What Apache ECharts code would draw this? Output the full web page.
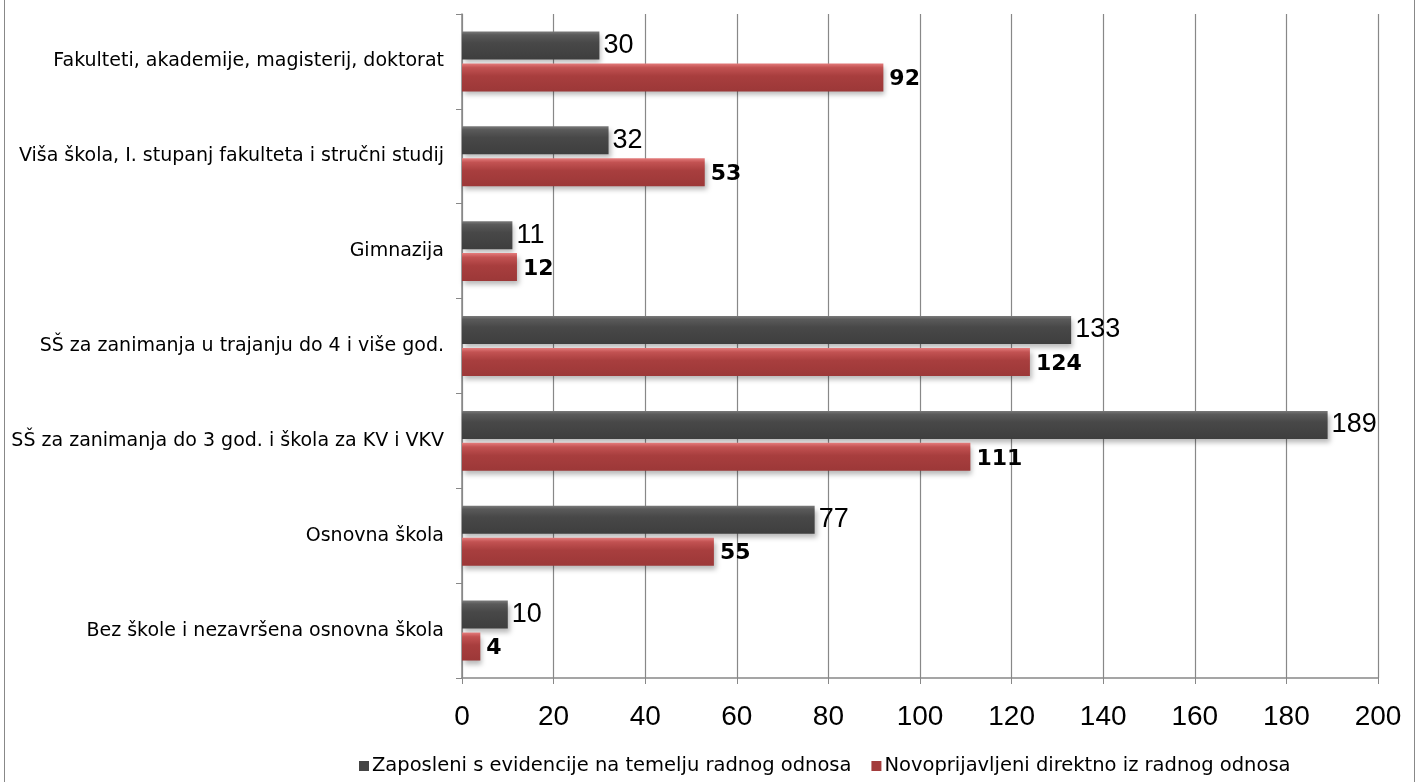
<!DOCTYPE html>
<html><head><meta charset="utf-8">
<script src="https://cdn.jsdelivr.net/npm/echarts@6/dist/echarts.min.js"></script>
<style>
html,body{margin:0;padding:0;background:#fff;}
#c{width:1417px;height:782px;}
#frame{position:absolute;left:4px;top:-2px;width:1411px;height:800px;border:1.5px solid #888;box-sizing:border-box;pointer-events:none;}
</style></head>
<body>
<div id="c"></div><div id="frame"></div>
<script>
const categories = [
  "Fakulteti, akademije, magisterij, doktorat",
  "Viša škola, I. stupanj fakulteta i stručni studij",
  "Gimnazija",
  "SŠ za zanimanja u trajanju do 4 i više god.",
  "SŠ za zanimanja do 3 god. i škola za KV i VKV",
  "Osnovna škola",
  "Bez škole i nezavršena osnovna škola"
];
const seriesNames = ["Zaposleni s evidencije na temelju radnog odnosa", "Novoprijavljeni direktno iz radnog odnosa"];
const zaposleni = [30, 32, 11, 133, 189, 77, 10];
const novoprijavljeni = [92, 53, 12, 124, 111, 55, 4];
const xTicks = {min: 0, max: 200, interval: 20};

const font = '"DejaVu Sans", Verdana, sans-serif';
const numFont = '"Liberation Sans", Arial, sans-serif';
const chart = echarts.init(document.getElementById('c'));
const grayGrad = new echarts.graphic.LinearGradient(0,0,0,1,[
  {offset:0,color:'#7a7a7a'},{offset:0.12,color:'#5a5a5a'},{offset:0.4,color:'#484848'},{offset:1,color:'#3e3e3e'}]);
const redGrad = new echarts.graphic.LinearGradient(0,0,0,1,[
  {offset:0,color:'#e47b7b'},{offset:0.15,color:'#c25252'},{offset:0.45,color:'#a83e3e'},{offset:1,color:'#9c3838'}]);
chart.setOption({
  animation:false,
  textStyle:{fontFamily:font},
  grid:{left:462,right:39,top:14,bottom:104,containLabel:false},
  legend:{
    bottom:1, left:354, itemWidth:10, itemHeight:10, itemGap:20,
    icon:'rect',
    textStyle:{fontSize:19.5,color:'#000',fontFamily:font,padding:[0,0,0,-2]},
    data:[{name:seriesNames[0],itemStyle:{color:'#454545'}},{name:seriesNames[1],itemStyle:{color:'#a33c3c'}}]
  },
  xAxis:{
    type:'value', min:xTicks.min, max:xTicks.max, interval:xTicks.interval,
    axisLine:{show:true,lineStyle:{color:'#888',width:1.5}},
    axisTick:{show:true,length:6,lineStyle:{color:'#888'}},
    axisLabel:{fontSize:28,color:'#000',margin:25,fontFamily:numFont},
    splitLine:{show:true,lineStyle:{color:'#888',width:1.2}}
  },
  yAxis:{
    type:'category', data:categories, inverse:true,
    axisLine:{show:true,lineStyle:{color:'#888',width:1.5}},
    axisTick:{show:true,length:6,lineStyle:{color:'#888'}},
    axisLabel:{fontSize:19,color:'#000',margin:18,fontFamily:font,padding:[4,0,0,0]}
  },
  series:[
    {name:seriesNames[0], type:'bar', data:zaposleni, barWidth:28, barGap:'14%',
     itemStyle:{color:grayGrad, shadowColor:'rgba(0,0,0,0.28)', shadowBlur:5, shadowOffsetX:2, shadowOffsetY:4},
     label:{show:true,position:'right',distance:4,fontSize:27,color:'#000',fontFamily:numFont}},
    {name:seriesNames[1], type:'bar', data:novoprijavljeni, barWidth:28,
     itemStyle:{color:redGrad, shadowColor:'rgba(0,0,0,0.28)', shadowBlur:5, shadowOffsetX:2, shadowOffsetY:4},
     label:{show:true,position:'right',distance:6,fontSize:22,fontWeight:'bold',color:'#000',fontFamily:font,offset:[0,2]}}
  ]
});
</script>
</body></html>
